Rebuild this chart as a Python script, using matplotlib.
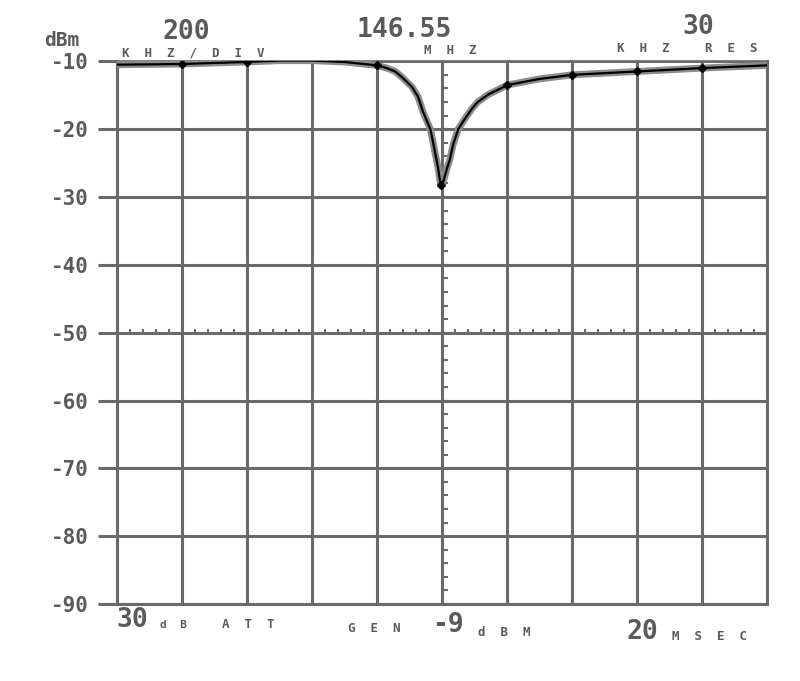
import numpy as np
import matplotlib as mpl
mpl.use('Agg')
import matplotlib.pyplot as plt

# trace (offset in divisions from centre, level in dBm)
center = 146.55
span_div = 0.2  # 200 kHz/div
trace_div = [-5.0, -4.0, -3.0, -2.5, -2.0, -1.5, -1.0, -0.85, -0.72, -0.62, -0.46,
             -0.37, -0.29, -0.18, -0.14, -0.11, -0.06, -0.02, 0.02, 0.08, 0.12,
             0.17, 0.25, 0.35, 0.46, 0.55, 0.71, 0.86, 1.0, 1.5, 2.0, 3.0, 4.0, 5.0]
trace_dbm = [-10.5, -10.4, -10.1, -9.9, -9.9, -10.1, -10.6, -11.0, -11.5, -12.3, -13.8,
             -15.2, -17.5, -20.0, -21.8, -23.3, -25.7, -28.3, -27.7, -25.7, -24.5,
             -22.3, -20.0, -18.5, -17.0, -16.0, -14.9, -14.2, -13.5, -12.6, -12.0,
             -11.5, -11.0, -10.6]
marker_div = [-4.0, -3.0, -1.0, -0.02, 1.0, 2.0, 3.0, 4.0]
marker_dbm = [-10.4, -10.1, -10.6, -28.3, -13.5, -12.0, -11.5, -11.0]
yticks = [-10, -20, -30, -40, -50, -60, -70, -80, -90]

grid_c = '#6a6a6a'
text_c = '#5a5a5a'
mono = 'DejaVu Sans Mono'

fig = plt.figure(figsize=(8, 6.81), dpi=100)
ax = fig.add_axes([0.146, 0.113, 0.813, 0.797])

freq = center + np.array(trace_div) * span_div
mfreq = center + np.array(marker_div) * span_div
ax.set_xlim(center - 5 * span_div, center + 5 * span_div)
ax.set_ylim(-90, -10)

ax.set_xticks(center + np.arange(-5, 6) * span_div)
ax.set_yticks(yticks)
ax.set_xticklabels([])
ax.set_yticklabels(['%d' % v for v in yticks], fontsize=15, fontweight='bold',
                   color=text_c, family=mono)
ax.tick_params(axis='y', length=14, width=2.2, color=grid_c, pad=6)
ax.tick_params(axis='x', length=0)
ax.grid(True, color=grid_c, linewidth=2.2)
for s in ax.spines.values():
    s.set_color(grid_c)
    s.set_linewidth(2.2)
ax.spines['top'].set_linewidth(1.2)

# small graticule ticks on centre line and -50 line
sub_x = center + np.arange(-5, 5, 0.2) * span_div
ax.vlines(sub_x, -50, -49.4, color=grid_c, linewidth=1.5)
sub_y = np.arange(-90, -10, 2.0)
ax.hlines(sub_y, center, center + 0.09 * span_div, color=grid_c, linewidth=1.5)

ax.plot(freq, trace_dbm, color='#8c8c8c', linewidth=5, solid_capstyle='round',
        solid_joinstyle='round', zorder=3)
ax.plot(freq, trace_dbm, color='black', linewidth=1.6, solid_joinstyle='round', zorder=4)
ax.plot(mfreq, marker_dbm, 'D', color='black', markersize=4, zorder=5)

def label(x, y, s, size, **kw):
    fig.text(x / 800, 1 - y / 681, s, fontsize=size, color=text_c, family=mono,
             fontweight='bold', va='center', **kw)

label(44, 40, 'dBm', 14)
label(163, 32, '200', 19)
label(122, 53, 'K  H  Z  /  D  I  V', 9)
label(357, 30, '146.55', 19)
label(424, 51, 'M  H  Z', 9)
label(682, 27, '30', 19)
label(617, 48, 'K  H  Z', 9)
label(705, 48, 'R  E  S', 9)
label(116, 620, '30', 19)
label(160, 625, 'd  B', 8)
label(222, 625, 'A  T  T', 9)
label(348, 628, 'G  E  N', 9)
label(432, 625, '-9', 19)
label(478, 632, 'd  B  M', 9)
label(626, 632, '20', 19)
label(672, 637, 'M  S  E  C', 9)

fig.savefig('out.png', dpi=100)
